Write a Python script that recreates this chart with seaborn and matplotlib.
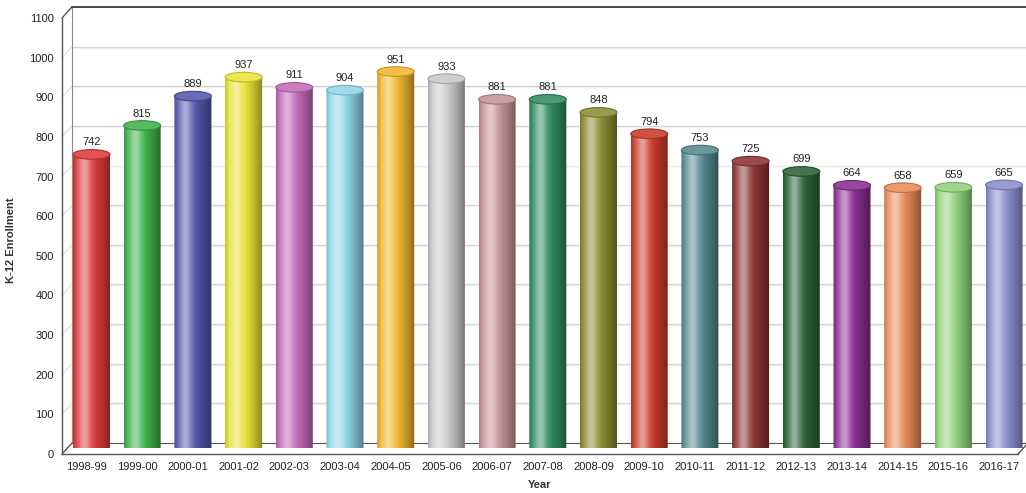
import numpy as np
import pandas as pd
import matplotlib
matplotlib.use("Agg")
import matplotlib.pyplot as plt
from matplotlib.path import Path
from matplotlib.patches import PathPatch, Ellipse
from matplotlib.lines import Line2D
from matplotlib.colors import to_rgb
import seaborn as sns

years = ["1998-99", "1999-00", "2000-01", "2001-02", "2002-03", "2003-04", "2004-05",
         "2005-06", "2006-07", "2007-08", "2008-09", "2009-10", "2010-11", "2011-12",
         "2012-13", "2013-14", "2014-15", "2015-16", "2016-17"]
enrollment = [742, 815, 889, 937, 911, 904, 951, 933, 881, 881, 848, 794, 753, 725,
              699, 664, 658, 659, 665]
bar_colors = ["#dc3a3c", "#3fb24a", "#5258aa", "#e9e235", "#c26ab8", "#8ed6e6", "#efb62c",
              "#c9c9c9", "#c49496", "#2f8c5c", "#8c8c34", "#c93c2a", "#54898f", "#8c3434",
              "#2c6236", "#8a2e92", "#e98a5a", "#8fd27a", "#8a8ccc"]
y_ticks = list(range(0, 1101, 100))

sns.set_style("white")
plt.rcParams["font.family"] = ["Liberation Sans", "DejaVu Sans"]

W, H = 1026, 493
fig = plt.figure(figsize=(W / 100, H / 100), dpi=100)

# pixel geometry of the front plane of the 3D box
fl, fb_top, fw, fh = 62, 454, 956, 436
dx, dy = 10, 11          # depth offset of the back wall


def axes_rect(left, bottom_from_top, width, height):
    return [left / W, (H - bottom_from_top) / H, width / W, height / H]


def fig_pt(x, y_from_top):
    return x / W, (H - y_from_top) / H


unit = 50.7
xmin = -(86.5 - fl) / unit
xmax = xmin + fw / unit
ymax = 1100

# back wall with gridlines
axb = fig.add_axes(axes_rect(fl + dx, fb_top - dy, fw, fh))
axb.set_xlim(xmin, xmax)
axb.set_ylim(0, ymax)
axb.set_xticks([])
axb.set_yticks([])
for v in y_ticks[1:-1]:
    axb.axhline(v, color="#d2d2d2", lw=0.9, zorder=1)
    axb.axhline(v - 2.2, color="#eeeeee", lw=0.9, zorder=1)
axb.spines["right"].set_visible(False)
axb.spines["top"].set_color("#3a3a3a")
axb.spines["top"].set_linewidth(1.3)
axb.spines["left"].set_color("#888888")
axb.spines["bottom"].set_color("#555555")
axb.patch.set_facecolor("white")

# middle plane holding the cylinders
axm = fig.add_axes(axes_rect(fl + dx / 2, fb_top - dy / 2, fw, fh))
axm.patch.set_alpha(0)
df = pd.DataFrame({"Year": years, "Enrollment": enrollment})
sns.barplot(data=df, x="Year", y="Enrollment", hue="Year", palette=bar_colors,
            legend=False, width=0.73, ax=axm, saturation=1)
axm.set_xlim(xmin, xmax)
axm.set_ylim(0, ymax)
axm.axis("off")

px_per_unit_y = fh / ymax
ry = 4.8 / px_per_unit_y

t = np.linspace(0, 1, 120)
highlight = 0.5 * np.exp(-((t - 0.3) / 0.17) ** 2)
shade = 1 - 0.42 * np.clip((t - 0.5) / 0.5, 0, 1) ** 1.3
shade *= 1 - 0.15 * np.clip(1 - t / 0.1, 0, 1)

for cont, col in zip(axm.containers, bar_colors):
    for rect in cont:
        x0, w, h = rect.get_x(), rect.get_width(), rect.get_height()
        rect.set_facecolor("none")
        rect.set_edgecolor("none")
        cx, a = x0 + w / 2, w / 2
        base = np.array(to_rgb(col))
        rgb = base[None, :] * shade[:, None]
        rgb = rgb + (1 - rgb) * highlight[:, None]
        img = np.clip(rgb, 0, 1)[None, :, :]

        th1 = np.linspace(np.pi, 2 * np.pi, 40)
        th2 = np.linspace(0, np.pi, 40)
        verts = [(cx + a * np.cos(q), ry * np.sin(q)) for q in th1]
        verts += [(cx + a * np.cos(q), h + ry * np.sin(q)) for q in th2]
        verts.append(verts[0])
        codes = [Path.MOVETO] + [Path.LINETO] * (len(verts) - 2) + [Path.CLOSEPOLY]
        clip = PathPatch(Path(verts, codes), transform=axm.transData,
                         facecolor="none", edgecolor="none")
        axm.add_patch(clip)
        im = axm.imshow(img, extent=[x0, x0 + w, -ry, h + ry], aspect="auto",
                        interpolation="bilinear", zorder=2)
        im.set_clip_path(clip)

        cap_col = base + (1 - base) * 0.12
        rim_col = base * 0.82
        axm.add_patch(Ellipse((cx, h), w, 2 * ry, facecolor=cap_col,
                              edgecolor=rim_col, lw=0.8, zorder=3))
    axm.bar_label(cont, padding=5, fontsize=8, color="#222222", zorder=4)

axm.set_xlim(xmin, xmax)
axm.set_ylim(0, ymax)

# front plane: axes, ticks and labels
axf = fig.add_axes(axes_rect(fl, fb_top, fw, fh))
axf.patch.set_alpha(0)
axf.set_xlim(xmin, xmax)
axf.set_ylim(0, ymax)
axf.set_xticks(range(len(years)))
axf.set_xticklabels(years, fontsize=8, color="#222222")
axf.set_yticks(y_ticks)
axf.set_yticklabels([str(v) for v in y_ticks], fontsize=8, color="#222222")
axf.tick_params(axis="both", direction="out", length=4, width=0.8, color="#555555", pad=2)
for side in ["top", "right"]:
    axf.spines[side].set_visible(False)
for side in ["left", "bottom"]:
    axf.spines[side].set_color("#555555")
    axf.spines[side].set_linewidth(1.0)
axf.set_ylabel("K-12 Enrollment", fontsize=8, fontweight="bold", color="#333333")
axf.yaxis.set_label_coords(-0.048, 0.49)
axf.set_xlabel("Year", fontsize=8, fontweight="bold", color="#333333", va="center")
axf.xaxis.set_label_coords(0.5, -0.072)
axf.set_zorder(0)
axm.set_zorder(1)
axb.set_zorder(-1)

# depth edges of the box
edge_pairs = [((fl, fb_top - fh), (fl + dx, fb_top - fh - dy), "#555555", 1.0),
              ((fl, fb_top), (fl + dx, fb_top - dy), "#555555", 1.0),
              ((fl + fw, fb_top), (fl + fw + dx, fb_top - dy), "#555555", 1.0)]
for v in y_ticks[1:-1]:
    yp = fb_top - v * px_per_unit_y
    edge_pairs.append(((fl, yp), (fl + dx, yp - dy), "#dddddd", 0.8))
for p0, p1, c, lw in edge_pairs:
    x0f, y0f = fig_pt(*p0)
    x1f, y1f = fig_pt(*p1)
    fig.add_artist(Line2D([x0f, x1f], [y0f, y1f], color=c, lw=lw,
                          transform=fig.transFigure, zorder=-2))

fig.savefig("out.png", dpi=100, facecolor="white")
